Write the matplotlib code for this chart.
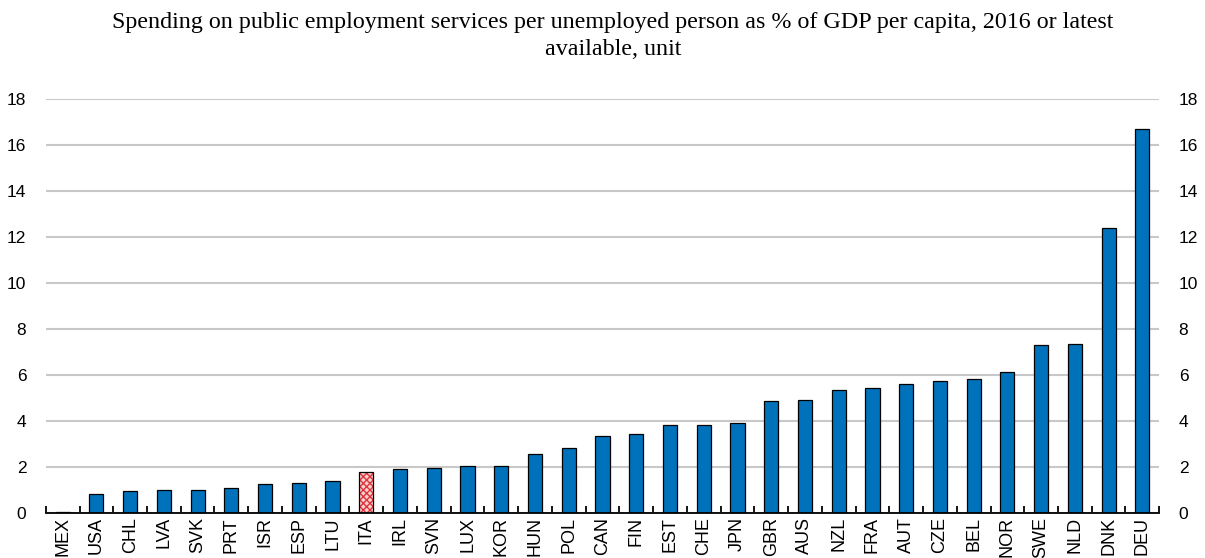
import matplotlib
matplotlib.use("Agg")
import matplotlib.pyplot as plt
import numpy as np

countries = ["MEX", "USA", "CHL", "LVA", "SVK", "PRT", "ISR", "ESP", "LTU", "ITA",
             "IRL", "SVN", "LUX", "KOR", "HUN", "POL", "CAN", "FIN", "EST", "CHE",
             "JPN", "GBR", "AUS", "NZL", "FRA", "AUT", "CZE", "BEL", "NOR", "SWE",
             "NLD", "DNK", "DEU"]
values = [0.05, 0.83, 0.97, 1.0, 1.02, 1.08, 1.25, 1.32, 1.4, 1.8,
          1.93, 1.95, 2.05, 2.05, 2.57, 2.82, 3.37, 3.42, 3.83, 3.83,
          3.92, 4.88, 4.93, 5.33, 5.43, 5.63, 5.72, 5.82, 6.12, 7.32,
          7.33, 12.38, 16.7]
highlight = "ITA"
yticks = [0, 2, 4, 6, 8, 10, 12, 14, 16, 18]
title_lines = ["Spending on public employment services per unemployed person as % of GDP per capita, 2016 or latest",
               "available, unit"]

blue = "#0072BC"
fig = plt.figure(figsize=(12.05, 5.58), dpi=100)
ax = fig.add_axes([0.038, 0.0806, 0.924, 0.742])

x = np.arange(len(countries))
colors = [blue if c != highlight else "none" for c in countries]
ax.bar(x, values, width=0.42, color=colors, edgecolor="black", linewidth=0.9, zorder=3)
for i, c in enumerate(countries):
    if c == highlight:
        ax.bar(x[i], values[i], width=0.42, color="#fbd0d0", edgecolor="#e0343a",
               hatch="xxxxx", linewidth=0, zorder=2.9)

ax.set_xlim(-0.5, len(countries) - 0.5)
ax.set_ylim(0, 18)
ax.set_yticks(yticks)
ax.yaxis.grid(True, color="#c8c8c8", linewidth=1.5, zorder=0)
ax.set_axisbelow(True)
for s in ["left", "right", "top"]:
    ax.spines[s].set_visible(False)
ax.spines["bottom"].set_linewidth(1.3)
ax.spines["bottom"].set_zorder(4)

ax.tick_params(axis="y", length=0, labelsize=12.5, labelright=True, labelleft=True, pad=14)
for lab in ax.get_yticklabels():
    lab.set_fontfamily("Liberation Sans")

ax.set_xticks(x)
ax.set_xticklabels(countries, rotation=90, fontsize=13, fontfamily="Liberation Sans")
ax.tick_params(axis="x", which="major", length=0, pad=3)
ax.set_xticks(np.arange(-0.5, len(countries), 1.0), minor=True)
ax.tick_params(axis="x", which="minor", direction="in", length=5, width=1.3)

H = 558.0
for k, line in enumerate(title_lines):
    fig.text(0.5087, 1 - (28 + 27 * k) / H, line, ha="center", va="baseline",
             fontsize=17.3, fontfamily="Liberation Serif")

fig.savefig("out.png", dpi=100)
